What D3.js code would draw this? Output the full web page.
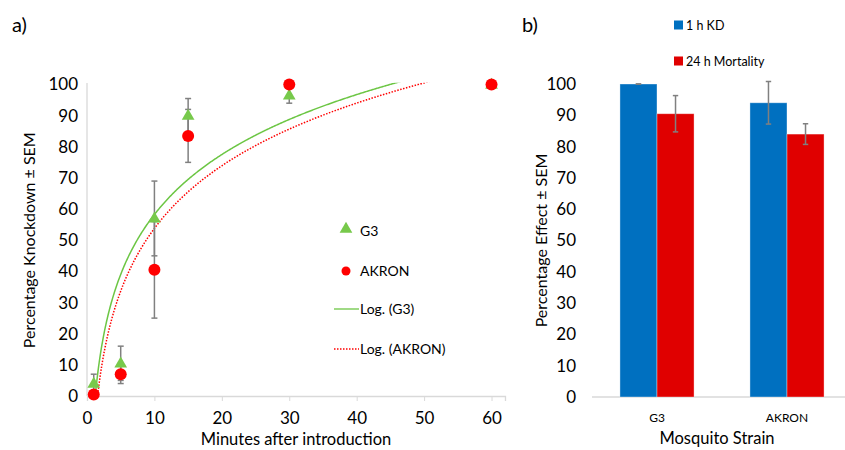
<!DOCTYPE html>
<html>
<head>
<meta charset="utf-8">
<script src="https://cdn.jsdelivr.net/npm/d3@7"></script>
<style>
  body { margin: 0; background: #fff; }
  svg { display: block; }
  text { font-family: Lato, "Open Sans", sans-serif; fill: #000; }
</style>
</head>
<body>
<svg id="chart" width="845" height="450"></svg>
<script>
// ---- Panel a) data ----
const minutes = [1, 5, 10, 15, 30, 60];
const g3KD = [4, 10.5, 57, 90, 96.5, 100];
const g3SEM = [3, 5.5, 12, 5.5, 2.5, 0];
const akronKD = [0.5, 7, 40.5, 83.5, 100, 100];
const akronSEM = [0, 3, 15.5, 8.5, 0, 0];
const xTicksA = [0, 10, 20, 30, 40, 50, 60];
const yTicks = [0, 10, 20, 30, 40, 50, 60, 70, 80, 90, 100];

// ---- Panel b) data ----
const strains = ["G3", "AKRON"];
const kd1h = [100, 94];
const kd1hSEM = [0, 6.8];
const mort24 = [90.5, 84];
const mort24SEM = [5.8, 3.3];
const seriesB = ["1 h KD", "24 h Mortality"];

const svg = d3.select("#chart");
const GREEN = "#77c94b", GREENLINE = "#6cc644", RED = "#ff0000", ERR = "#808080";

// ================= Panel a =================
const xA = d3.scaleLinear().domain([0, 62]).range([87, 505]);
const yA = d3.scaleLinear().domain([0, 100]).range([396, 84.5]);

svg.append("text").attr("x", 12).attr("y", 32).attr("font-size", 20).text("a)");

// axes
const gxA = svg.append("g").attr("transform", `translate(0,${yA(0)})`)
  .call(d3.axisBottom(xA).tickValues(xTicksA).tickSize(5).tickPadding(11));
gxA.select(".domain").attr("stroke", "#d9d9d9").attr("stroke-width", 1.3);
gxA.selectAll(".tick line").attr("stroke", "#d9d9d9");
gxA.selectAll(".tick text").attr("font-size", 17).attr("fill", "#000").style("font-family", "Lato");

const gyA = svg.append("g").attr("transform", `translate(${xA(0)},0)`)
  .call(d3.axisLeft(yA).tickValues(yTicks).tickSize(0).tickPadding(9));
gyA.select(".domain").attr("stroke", "#d9d9d9").attr("stroke-width", 1.3)
  .attr("d", `M0,${yA(100.5)}V${yA(0)}`);
gyA.selectAll(".tick text").attr("font-size", 17).attr("fill", "#000").style("font-family", "Lato");

svg.append("text").attr("x", xA(31)).attr("y", 445).attr("text-anchor", "middle")
  .attr("font-size", 16.5).text("Minutes after introduction");
svg.append("text").attr("transform", `translate(35,${(yA(0) + yA(100)) / 2}) rotate(-90)`)
  .attr("text-anchor", "middle").attr("font-size", 16).text("Percentage Knockdown ± SEM");

// log trend lines (least squares on ln x)
function logFit(xs, ys) {
  const lx = xs.map(Math.log);
  const mx = d3.mean(lx), my = d3.mean(ys);
  let sxy = 0, sxx = 0;
  lx.forEach((v, i) => { sxy += (v - mx) * (ys[i] - my); sxx += (v - mx) * (v - mx); });
  const a = sxy / sxx, b = my - a * mx;
  return x => a * Math.log(x) + b;
}
svg.append("clipPath").attr("id", "clipA").append("rect")
  .attr("x", xA(0)).attr("y", yA(100.6)).attr("width", xA(62) - xA(0)).attr("height", yA(0) - yA(100.6));
const fitG3 = logFit(minutes, g3KD), fitAk = logFit(minutes, akronKD);
const xsFit = d3.range(1, 60.01, 0.1);
const lineA = d3.line().x(d => xA(d[0])).y(d => yA(d[1]));
const gTrend = svg.append("g").attr("clip-path", "url(#clipA)");
gTrend.append("path").datum(xsFit.map(x => [x, fitG3(x)])).attr("d", lineA)
  .attr("fill", "none").attr("stroke", GREENLINE).attr("stroke-width", 1.5);
gTrend.append("path").datum(xsFit.map(x => [x, fitAk(x)])).attr("d", lineA)
  .attr("fill", "none").attr("stroke", RED).attr("stroke-width", 1.5).attr("stroke-dasharray", "1.5,1.5");

// error bars
function errBars(g, xs, ys, es, cap) {
  xs.forEach((x, i) => {
    if (!es[i]) return;
    const cx = xA(x), y1 = yA(ys[i] - es[i]), y2 = yA(ys[i] + es[i]);
    g.append("line").attr("x1", cx).attr("x2", cx).attr("y1", y1).attr("y2", y2);
    g.append("line").attr("x1", cx - cap).attr("x2", cx + cap).attr("y1", y1).attr("y2", y1);
    g.append("line").attr("x1", cx - cap).attr("x2", cx + cap).attr("y1", y2).attr("y2", y2);
  });
}
const gErr = svg.append("g").attr("stroke", ERR).attr("stroke-width", 1.5);
errBars(gErr, minutes, g3KD, g3SEM, 3);
errBars(gErr, minutes, akronKD, akronSEM, 3);

// markers
const tri = d3.symbol().type(d3.symbolTriangle).size(70);
svg.append("g").selectAll("path").data(minutes).join("path")
  .attr("transform", (d, i) => `translate(${xA(d)},${yA(g3KD[i]) + 0.5})`)
  .attr("d", tri).attr("fill", GREEN);
svg.append("g").selectAll("circle").data(minutes).join("circle")
  .attr("cx", d => xA(d)).attr("cy", (d, i) => yA(akronKD[i])).attr("r", 6).attr("fill", RED);

// legend a
const lgA = svg.append("g").attr("font-size", 14);
lgA.append("path").attr("d", tri).attr("transform", "translate(346,229)").attr("fill", GREEN);
lgA.append("text").attr("x", 360).attr("y", 236).text("G3");
lgA.append("circle").attr("cx", 346).attr("cy", 271).attr("r", 4.5).attr("fill", RED);
lgA.append("text").attr("x", 360).attr("y", 276).text("AKRON");
lgA.append("line").attr("x1", 334).attr("x2", 359).attr("y1", 309).attr("y2", 309)
  .attr("stroke", GREENLINE).attr("stroke-width", 1.3);
lgA.append("text").attr("x", 360).attr("y", 314).text("Log. (G3)");
lgA.append("line").attr("x1", 334).attr("x2", 359).attr("y1", 349).attr("y2", 349)
  .attr("stroke", RED).attr("stroke-width", 1.3).attr("stroke-dasharray", "1.5,1.5");
lgA.append("text").attr("x", 360).attr("y", 354).text("Log. (AKRON)");

// ================= Panel b =================
const x0 = d3.scaleBand().domain(strains).range([592, 852]).paddingInner(0.43).paddingOuter(0.215);
const x1 = d3.scaleBand().domain(seriesB).range([0, x0.bandwidth()]);
const yB = d3.scaleLinear().domain([0, 100]).range([397, 84]);
const colB = ["#0070c0", "#e00000"];

svg.append("text").attr("x", 522).attr("y", 32).attr("font-size", 20).text("b)");

const gyB = svg.append("g").attr("transform", `translate(592,0)`)
  .call(d3.axisLeft(yB).tickValues(yTicks).tickSize(0).tickPadding(16));
gyB.select(".domain").remove();
gyB.selectAll(".tick text").attr("font-size", 17).attr("fill", "#000").style("font-family", "Lato");

svg.append("line").attr("x1", 592).attr("x2", 845).attr("y1", yB(0)).attr("y2", yB(0))
  .attr("stroke", "#d9d9d9").attr("stroke-width", 1.3);

const valsB = [kd1h, mort24], semB = [kd1hSEM, mort24SEM];
seriesB.forEach((s, si) => {
  svg.append("g").selectAll("rect").data(strains).join("rect")
    .attr("x", d => x0(d) + x1(s)).attr("width", x1.bandwidth())
    .attr("y", (d, i) => yB(valsB[si][i])).attr("height", (d, i) => yB(0) - yB(valsB[si][i]))
    .attr("fill", colB[si]).attr("stroke", "#ffffff").attr("stroke-opacity", 0.45).attr("stroke-width", 0.8);
});
const gErrB = svg.append("g").attr("stroke", ERR).attr("stroke-width", 1.5);
seriesB.forEach((s, si) => {
  strains.forEach((d, i) => {
    const cx = x0(d) + x1(s) + x1.bandwidth() / 2;
    const v = valsB[si][i], e = semB[si][i];
    const y1 = yB(v - e), y2 = yB(v + e);
    gErrB.append("line").attr("x1", cx).attr("x2", cx).attr("y1", y1).attr("y2", y2);
    gErrB.append("line").attr("x1", cx - 2.7).attr("x2", cx + 2.7).attr("y1", y1).attr("y2", y1);
    gErrB.append("line").attr("x1", cx - 2.7).attr("x2", cx + 2.7).attr("y1", y2).attr("y2", y2);
  });
});

strains.forEach(d => {
  svg.append("text").attr("x", x0(d) + x0.bandwidth() / 2).attr("y", 422)
    .attr("text-anchor", "middle").attr("font-size", 12).text(d);
});
svg.append("text").attr("x", 717).attr("y", 444).attr("text-anchor", "middle")
  .attr("font-size", 16.5).text("Mosquito Strain");
svg.append("text").attr("transform", `translate(547,${(yB(0) + yB(100)) / 2}) rotate(-90)`)
  .attr("text-anchor", "middle").attr("font-size", 16).text("Percentage Effect ± SEM");

// legend b
seriesB.forEach((s, si) => {
  const yy = 25 + si * 36;
  svg.append("rect").attr("x", 674).attr("y", yy - 4.5).attr("width", 9).attr("height", 9).attr("fill", colB[si]);
  svg.append("text").attr("x", 686).attr("y", yy + 4.5).attr("font-size", 12.5).text(s);
});
</script>
</body>
</html>
